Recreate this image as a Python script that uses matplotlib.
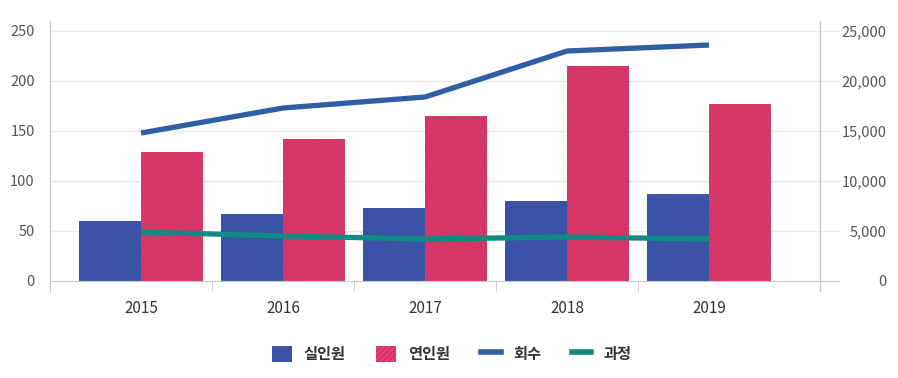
import numpy as np
import matplotlib
matplotlib.use('Agg')
import matplotlib.pyplot as plt
from matplotlib.patches import Patch
from matplotlib.lines import Line2D

plt.rcParams['font.family'] = ['Noto Sans CJK KR', 'DejaVu Sans']
plt.rcParams['hatch.linewidth'] = 0.4

# --- data ---
YEARS = ['2015', '2016', '2017', '2018', '2019']
REAL = [60, 67, 73, 80, 87]             # 실인원 (left axis)
TOTAL = [129, 142, 165, 215, 177]       # 연인원 (left axis)
COUNT = [14800, 17300, 18400, 23000, 23600]   # 회수 (right axis)
COURSE = [4900, 4500, 4200, 4400, 4200]       # 과정 (right axis)

BLUE = '#3a53a6'
RED = '#e83d6e'
HATCH = '#9a2450'
LINE_BLUE = '#2f5ea4'
TEAL = '#0f8b84'
GRID = '#e9e9e9'
AXIS = '#c8c8c8'
TXT = '#555555'

fig = plt.figure(figsize=(8.98, 3.78), dpi=100)
W, H = 898, 378
ax = fig.add_axes([50 / W, 1 - 292 / H, (839 - 50) / W, (292 - 21) / H])
ax2 = ax.twinx()

x = np.arange(len(YEARS))
bw = 62 / 142
ax.bar(x - bw / 2, REAL, bw, color=BLUE, lw=0, zorder=2)
ax.bar(x + bw / 2, TOTAL, bw, color=RED, edgecolor=HATCH, hatch='/' * 10, lw=0, zorder=2)

ax2.plot(x, COUNT, color=LINE_BLUE, lw=3.8, solid_capstyle='butt', zorder=3)
ax2.plot(x, COURSE, color=TEAL, lw=3.8, solid_capstyle='butt', zorder=3)

ax.set_xlim(-0.641, 4.915)
ax.set_ylim(-11, 260)
ax2.set_ylim(-1100, 26000)

# gridlines on left scale
for v in range(50, 251, 50):
    ax.axhline(v, color=GRID, lw=1, zorder=0)
ax.axvline(4.782, color=AXIS, lw=1, zorder=1)

for s in ['top', 'right']:
    ax.spines[s].set_visible(False)
for s in ax2.spines.values():
    s.set_visible(False)
ax.spines['left'].set_color(AXIS)
ax.spines['bottom'].set_position(('data', 0))
ax.spines['bottom'].set_color(AXIS)

ax.set_yticks(range(0, 251, 50))
ax.tick_params(axis='y', length=0, pad=11, labelsize=10.5, labelcolor=TXT)
ax2.set_yticks(range(0, 25001, 5000))
ax2.set_yticklabels([f'{v:,}' for v in range(0, 25001, 5000)], ha='right')
ax2.tick_params(axis='y', length=0, pad=34.5, labelsize=10.5, labelcolor=TXT)

ax.set_xticks(x)
ax.set_xticklabels(YEARS)
ax.set_xticks([0.5, 1.5, 2.5, 3.5], minor=True)
ax.tick_params(axis='x', which='major', length=0, pad=14, labelsize=11, labelcolor='#333333')
ax.tick_params(axis='x', which='minor', length=7, color=AXIS, direction='out')

handles = [
    Patch(facecolor=BLUE, lw=0),
    Patch(facecolor=RED, edgecolor=HATCH, hatch='/' * 6, lw=0),
    Line2D([], [], color=LINE_BLUE, lw=4),
    Line2D([], [], color=TEAL, lw=4),
]
labels = ['실인원', '연인원', '회수', '과정']
fig.legend(handles, labels, loc='center', bbox_to_anchor=(0.503, 1 - 354 / H), ncol=4,
           frameon=False, handlelength=1.3, handleheight=1.3, handletextpad=0.8,
           columnspacing=2.0, prop={'size': 11, 'weight': 'bold'}, labelcolor='#333333')

fig.savefig('out.png', dpi=100)
